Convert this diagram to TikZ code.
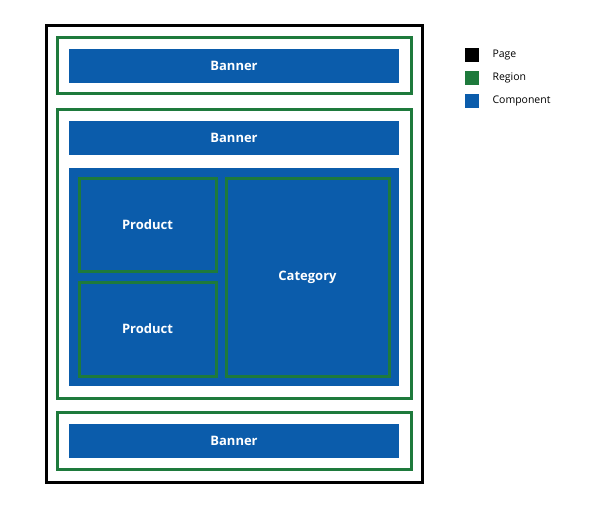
\documentclass[tikz,border=0pt]{standalone}
\usepackage{fontspec}
\setmainfont{Open Sans}
\definecolor{cblue}{HTML}{0B5CAB}
\definecolor{cgreen}{HTML}{1E7A3C}
\begin{document}
\begin{tikzpicture}[x=1pt,y=-1pt,
  page/.style={draw=black,line width=3pt},
  region/.style={draw=cgreen,line width=3pt},
  comp/.style={fill=cblue,draw=none,text=white,font=\bfseries\fontsize{13}{15}\selectfont},
  inner/.style={fill=cblue,draw=cgreen,line width=3pt,text=white,font=\bfseries\fontsize{13}{15}\selectfont},
  leg/.style={font=\fontsize{10.5}{12}\selectfont,anchor=west}]
\useasboundingbox (0,0) rectangle (600,511);
\draw[page] (46,26) rectangle (422,482);
\draw[region] (57,38) rectangle (411,94);
\node[comp,minimum width=330pt,minimum height=34pt] (b1) at (234,66) {Banner};
\draw[region] (57,109) rectangle (411,398);
\node[comp,minimum width=330pt,minimum height=34pt] (b2) at (234,138) {Banner};
\fill[cblue] (69,168) rectangle (399,386);
\node[inner,minimum width=137pt,minimum height=93pt] (p1) at (147.5,224.5) {Product};
\node[inner,minimum width=137pt,minimum height=94pt] (p2) at (147.5,329) {Product};
\node[inner,minimum width=163pt,minimum height=198pt] (c) at (307.5,277) {Category};
\draw[region] (57,412) rectangle (411,469);
\node[comp,minimum width=330pt,minimum height=34pt] (b3) at (234,441) {Banner};
\fill[black] (465,48) rectangle (479,62);
\fill[cgreen] (465,71) rectangle (479,85);
\fill[cblue] (465,94) rectangle (479,108);
\node[leg] (l1) at (489,55) {Page};
\node[leg] (l2) at (489,78) {Region};
\node[leg] (l3) at (489,101) {Component};
\end{tikzpicture}
\end{document}
